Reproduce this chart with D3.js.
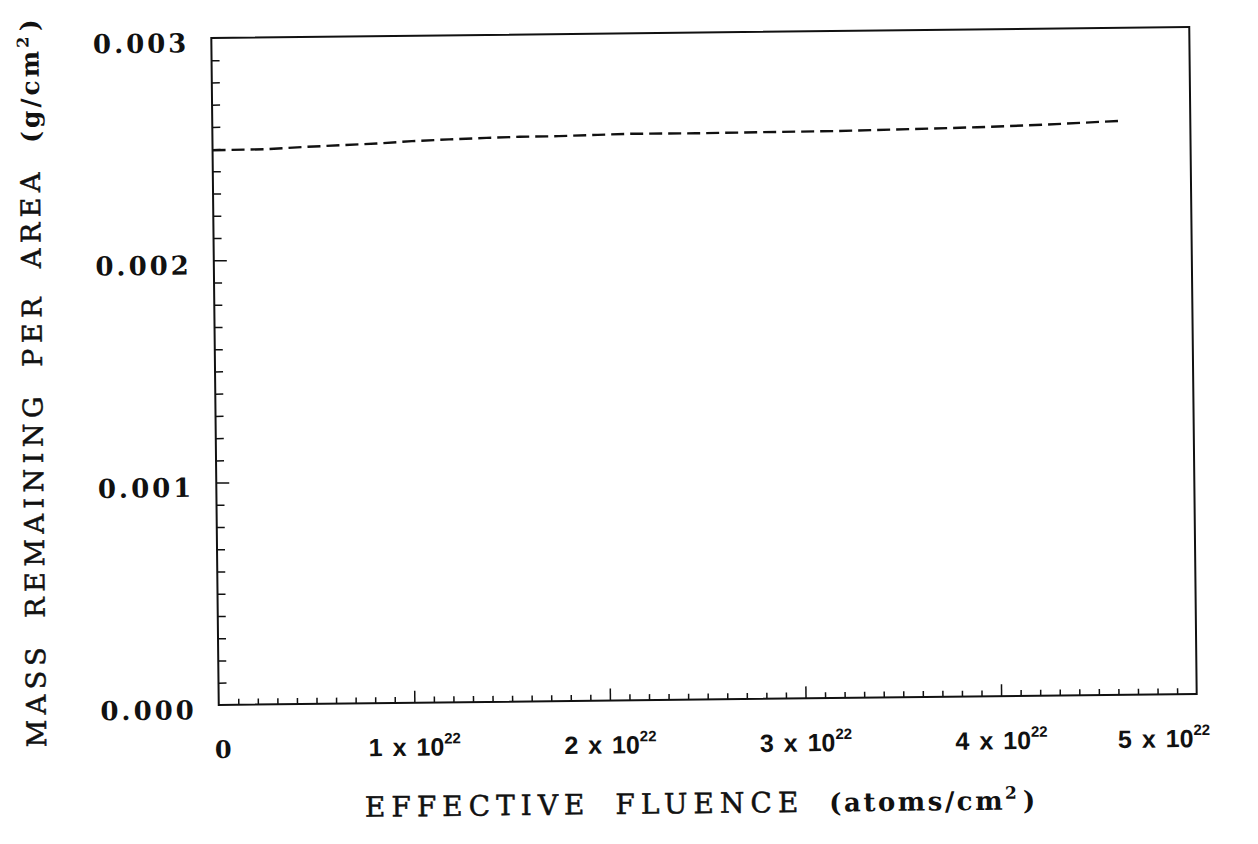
<!DOCTYPE html>
<html>
<head>
<meta charset="utf-8">
<script src="https://cdn.jsdelivr.net/npm/d3@7"></script>
<style>
  body { margin: 0; background: #fff; }
  text { fill: #111; }
</style>
</head>
<body>
<div id="chart"></div>
<script>
// fluence in units of 1e22 atoms/cm2, mass in g/cm2
const fluence = [0, 0.28, 0.46, 0.65, 0.84, 1.02, 1.21, 1.40, 1.57, 1.77, 1.97, 2.14, 2.47, 2.89, 3.19, 3.57, 3.91, 4.25, 4.65];
const mass = [0.002495, 0.002497, 0.002505, 0.002511, 0.002517, 0.002526, 0.002532, 0.002537, 0.002540, 0.002541,
  0.002545, 0.002548, 0.002547, 0.002549, 0.002550, 0.002555, 0.002560, 0.002568, 0.002582];
const xTicks = [0, 1, 2, 3, 4, 5];
const yTicks = [0, 0.001, 0.002, 0.003];

const WIDTH = 1258;
const HEIGHT = 844;
const LEFT = 215, RIGHT = 1193, TOP = 32.5, BOTTOM = 699.5;
const SERIF = "'DejaVu Serif', serif";
const SANS = "'Liberation Sans', Arial, sans-serif";

const svg = d3.select("#chart").append("svg")
  .attr("width", WIDTH)
  .attr("height", HEIGHT);

// the scanned page is tilted a little
const g = svg.append("g").attr("transform", "rotate(-0.64 704 366)");

const x = d3.scaleLinear().domain([0, 5]).range([LEFT, RIGHT]);
const y = d3.scaleLinear().domain([0, 0.003]).range([BOTTOM, TOP]);

const styleTicks = sel => {
  sel.select(".domain").remove();
  sel.selectAll(".tick line").attr("stroke", "#111").attr("stroke-width", 1.5);
};

// x ticks, pointing inward
g.append("g")
  .attr("transform", `translate(0,${BOTTOM})`)
  .call(d3.axisBottom(x).tickValues(d3.range(1, 50).filter(i => i % 10).map(i => i / 10)).tickSize(-6).tickFormat(""))
  .call(styleTicks);
g.append("g")
  .attr("transform", `translate(0,${BOTTOM})`)
  .call(d3.axisBottom(x).tickValues(xTicks.slice(1, -1)).tickSize(-12).tickFormat(""))
  .call(styleTicks);

// y ticks
g.append("g")
  .attr("transform", `translate(${LEFT},0)`)
  .call(d3.axisLeft(y).tickValues(d3.range(1, 30).filter(i => i % 10).map(i => i / 10000)).tickSize(-8).tickFormat(""))
  .call(styleTicks);
g.append("g")
  .attr("transform", `translate(${LEFT},0)`)
  .call(d3.axisLeft(y).tickValues(yTicks.slice(1, -1)).tickSize(-13).tickFormat(""))
  .call(styleTicks);

// frame
g.append("rect")
  .attr("x", LEFT).attr("y", TOP)
  .attr("width", RIGHT - LEFT).attr("height", BOTTOM - TOP)
  .attr("fill", "none").attr("stroke", "#111").attr("stroke-width", 2);

// data
const line = d3.line().x((d, i) => x(fluence[i])).y(d => y(d));
g.append("path")
  .datum(mass)
  .attr("d", line)
  .attr("fill", "none")
  .attr("stroke", "#111")
  .attr("stroke-width", 2.4)
  .attr("stroke-dasharray", "13,6");

// y tick labels
g.selectAll(".ylab")
  .data(yTicks)
  .join("text")
  .attr("class", "ylab")
  .attr("x", LEFT - 22)
  .attr("y", d => y(d) + 14)
  .attr("text-anchor", "end")
  .style("font-family", SERIF)
  .style("font-weight", "bold")
  .style("font-size", "26px")
  .style("letter-spacing", "3px")
  .text(d3.format(".3f"));

// x tick labels
const xl = g.selectAll(".xlab")
  .data(xTicks)
  .join("text")
  .attr("class", "xlab")
  .attr("x", (d, i) => x(d) + (i === 0 ? 4 : i === xTicks.length - 1 ? 13 : 0))
  .attr("y", BOTTOM + 53)
  .attr("text-anchor", (d, i) => i === xTicks.length - 1 ? "end" : "middle")
  .style("font-weight", "bold");
xl.filter(d => d === 0)
  .style("font-family", SERIF)
  .style("font-size", "24px")
  .text("0");
xl.filter(d => d !== 0)
  .style("font-family", SANS)
  .style("font-size", "25px")
  .style("word-spacing", "3px")
  .each(function (d) {
    const t = d3.select(this);
    t.append("tspan").text(`${d} x 10`);
    t.append("tspan").attr("dy", -12).style("font-size", "15px").text("22");
  });

// axis titles
const xt = g.append("text")
  .attr("x", 360)
  .attr("y", 813)
  .style("font-family", SERIF)
  .style("font-size", "28px")
  .style("letter-spacing", "6px")
  .style("word-spacing", "10px")
  .style("stroke", "#111")
  .style("stroke-width", 0.5);
xt.append("tspan").text("EFFECTIVE FLUENCE ");
xt.append("tspan").style("font-weight", "bold").style("font-size", "26px").style("letter-spacing", "2.5px").style("stroke-width", 0).text("(atoms/cm");
xt.append("tspan").attr("dy", -11).style("font-weight", "bold").style("font-size", "17px").style("stroke-width", 0).text("2");
xt.append("tspan").attr("dy", 11).style("font-weight", "bold").style("font-size", "26px").style("stroke-width", 0).text(")");

const yt = g.append("text")
  .attr("transform", "translate(42,740) rotate(-90)")
  .style("font-family", SERIF)
  .style("font-size", "27px")
  .style("letter-spacing", "5.5px")
  .style("word-spacing", "10px")
  .style("stroke", "#111")
  .style("stroke-width", 0.5);
yt.append("tspan").text("MASS REMAINING PER AREA ");
yt.append("tspan").style("font-weight", "bold").style("font-size", "25px").style("letter-spacing", "3px").style("stroke-width", 0).text("(g/cm");
yt.append("tspan").attr("dy", -10).style("font-weight", "bold").style("font-size", "16px").style("stroke-width", 0).text("2");
yt.append("tspan").attr("dy", 10).style("font-weight", "bold").style("font-size", "25px").style("stroke-width", 0).text(")");
</script>
</body>
</html>
